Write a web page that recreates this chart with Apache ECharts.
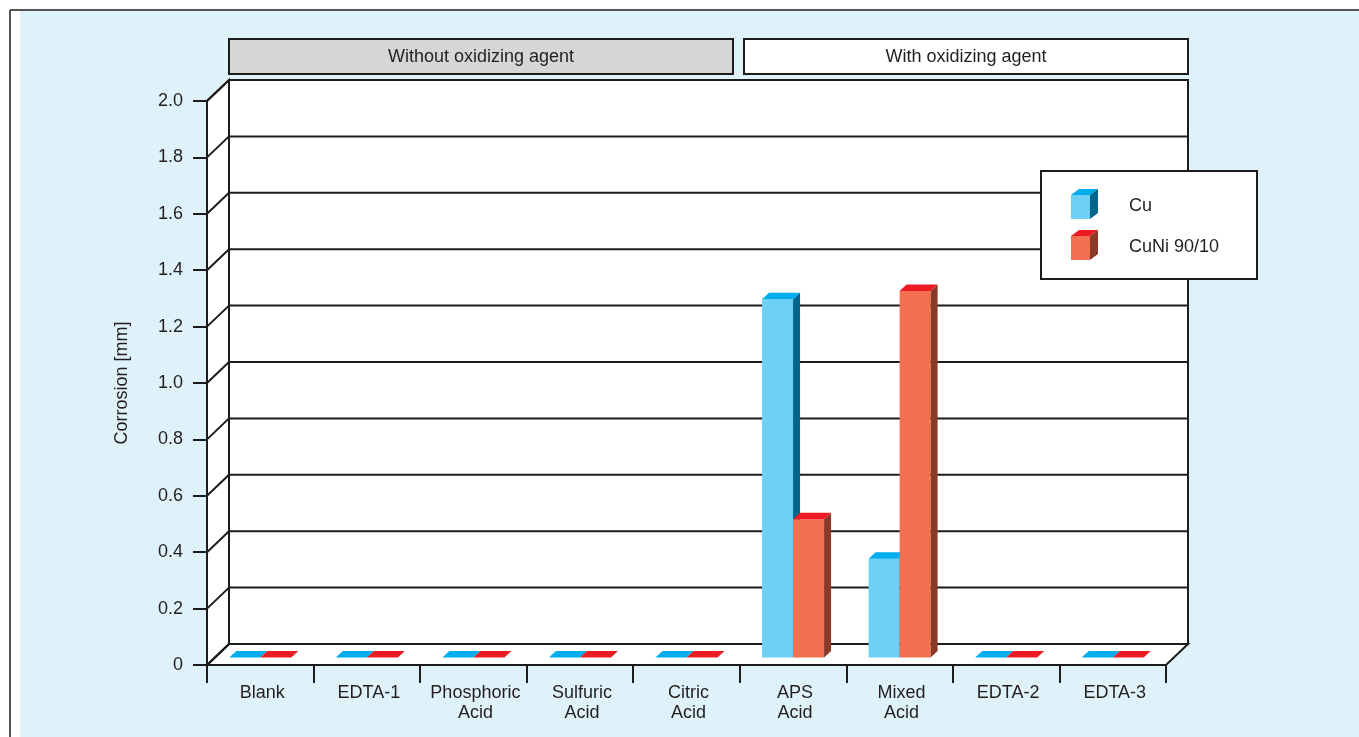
<!DOCTYPE html>
<html>
<head>
<meta charset="utf-8">
<title>Corrosion</title>
<script src="https://cdn.jsdelivr.net/npm/echarts@6/dist/echarts.min.js"></script>
<style>
  html, body { margin: 0; padding: 0; background: #ffffff; }
  #chart { width: 1359px; height: 737px; }
</style>
</head>
<body>
<div id="chart"></div>
<script>
// ---- data ----
const categories = ['Blank', 'EDTA-1', 'Phosphoric\nAcid', 'Sulfuric\nAcid', 'Citric\nAcid',
                    'APS\nAcid', 'Mixed\nAcid', 'EDTA-2', 'EDTA-3'];
const cuValues   = [0, 0, 0, 0, 0, 1.27, 0.35, 0, 0];
const cuNiValues = [0, 0, 0, 0, 0, 0.49, 1.30, 0, 0];
const yTicks = [0, 0.2, 0.4, 0.6, 0.8, 1.0, 1.2, 1.4, 1.6, 1.8, 2.0];
const seriesNames = ['Cu', 'CuNi 90/10'];
const groupLabels = ['Without oxidizing agent', 'With oxidizing agent'];
const yAxisTitle = 'Corrosion [mm]';

// ---- look ----
const FONT = '"Liberation Sans", Arial, Helvetica, sans-serif';
const INK = '#1c1c1c';
const TEXT = '#231f20';
const WALL_DX = 22, WALL_DY = -21;     // depth of the box
const BAR_DX = 7, BAR_DY = -6.5;       // depth of each bar
const BAR_LIFT = 7.5;                  // bars stand a little behind the front edge
const BAR_RATIO = 0.291;               // bar width as share of a category band
const palette = {
  cu:   { front: '#6dcff6', top: '#00aeef', side: '#00668c' },
  cuNi: { front: '#f37053', top: '#ed1c24', side: '#8b3a27' }
};

const chart = echarts.init(document.getElementById('chart'), null, { renderer: 'canvas' });

// back wall, side wall, floor and their grid lines
function renderFrame(params, api) {
  const cs = params.coordSys;
  const L = cs.x, R = cs.x + cs.width, T = cs.y, B = cs.y + cs.height;
  const face = { fill: '#ffffff', stroke: INK, lineWidth: 2 };
  const line = { stroke: INK, lineWidth: 2 };
  const kids = [
    { type: 'polygon', shape: { points: [[L, B], [R, B], [R + WALL_DX, B + WALL_DY], [L + WALL_DX, B + WALL_DY]] }, style: face },
    { type: 'polygon', shape: { points: [[L, B], [L, T], [L + WALL_DX, T + WALL_DY], [L + WALL_DX, B + WALL_DY]] }, style: face },
    { type: 'rect', shape: { x: L + WALL_DX, y: T + WALL_DY, width: cs.width, height: cs.height }, style: face }
  ];
  yTicks.forEach(function (t) {
    const y = api.coord([0, t])[1];
    kids.push({ type: 'line', shape: { x1: L, y1: y, x2: L + WALL_DX, y2: y + WALL_DY }, style: line });
    kids.push({ type: 'line', shape: { x1: L + WALL_DX, y1: y + WALL_DY, x2: R + WALL_DX, y2: y + WALL_DY }, style: line });
  });
  return { type: 'group', children: kids };
}

// a box-shaped bar; side = -1 draws left of the category centre, +1 right of it
function makeBarRenderer(side, col) {
  return function (params, api) {
    const i = api.value(0), v = api.value(1);
    const base = api.coord([i, 0]);
    const topP = api.coord([i, v]);
    const w = api.size([1, 0])[0] * BAR_RATIO;
    const x0 = side < 0 ? base[0] - w : base[0];
    const x1 = x0 + w;
    const yb = base[1] - BAR_LIFT;
    const yt = topP[1] - BAR_LIFT;
    const kids = [];
    if (yb - yt > 0.5) {
      kids.push({ type: 'rect', shape: { x: x0, y: yt, width: w, height: yb - yt }, style: { fill: col.front } });
      kids.push({ type: 'polygon', shape: { points: [[x1, yb], [x1 + BAR_DX, yb + BAR_DY], [x1 + BAR_DX, yt + BAR_DY], [x1, yt]] }, style: { fill: col.side } });
    }
    kids.push({ type: 'polygon', shape: { points: [[x0, yt], [x1, yt], [x1 + BAR_DX, yt + BAR_DY], [x0 + BAR_DX, yt + BAR_DY]] }, style: { fill: col.top } });
    return { type: 'group', children: kids };
  };
}

function cube(x, y, col) {
  return [
    { type: 'rect', shape: { x: x, y: y + 6, width: 19, height: 24 }, style: { fill: col.front } },
    { type: 'polygon', shape: { points: [[x, y + 6], [x + 19, y + 6], [x + 27, y], [x + 8, y]] }, style: { fill: col.top } },
    { type: 'polygon', shape: { points: [[x + 19, y + 6], [x + 27, y], [x + 27, y + 24], [x + 19, y + 30]] }, style: { fill: col.side } }
  ];
}

function label(text, x, y, align) {
  return {
    type: 'text',
    style: { text: text, x: x, y: y, font: '18px ' + FONT, fill: TEXT,
             align: align, verticalAlign: 'middle', textAlign: align, textVerticalAlign: 'middle' }
  };
}

const graphics = [
  // page frame and tinted panel
  { type: 'rect', shape: { x: 20, y: 11, width: 1339, height: 726 }, style: { fill: '#dff1f9' }, z: -10 },
  { type: 'line', shape: { x1: 10, y1: 10, x2: 1359, y2: 10 }, style: { stroke: '#555555', lineWidth: 2 }, z: -9 },
  { type: 'line', shape: { x1: 10, y1: 10, x2: 10, y2: 737 }, style: { stroke: '#555555', lineWidth: 2 }, z: -9 },
  // group headers
  { type: 'rect', shape: { x: 229, y: 39, width: 504, height: 35 }, style: { fill: '#d6d6d6', stroke: INK, lineWidth: 2 } },
  { type: 'rect', shape: { x: 744, y: 39, width: 444, height: 35 }, style: { fill: '#ffffff', stroke: INK, lineWidth: 2 } },
  label(groupLabels[0], 481, 57, 'center'),
  label(groupLabels[1], 966, 57, 'center'),
  // legend
  { type: 'rect', shape: { x: 1041, y: 171, width: 216, height: 108 }, style: { fill: '#ffffff', stroke: INK, lineWidth: 2 }, z: 20 }
].concat(
  cube(1071, 189, palette.cu).map(function (e) { e.z = 21; return e; }),
  cube(1071, 230, palette.cuNi).map(function (e) { e.z = 21; return e; }),
  [Object.assign(label(seriesNames[0], 1129, 206, 'left'), { z: 21 }),
   Object.assign(label(seriesNames[1], 1129, 247, 'left'), { z: 21 })]
);

const option = {
  animation: false,
  backgroundColor: 'transparent',
  textStyle: { fontFamily: FONT },
  grid: { left: 207, top: 101, width: 959, height: 564, containLabel: false },
  xAxis: {
    type: 'category',
    data: categories,
    z: 5,
    axisLine: { show: true, lineStyle: { color: INK, width: 2 } },
    axisTick: { show: true, length: 18, lineStyle: { color: INK, width: 2 } },
    axisLabel: { interval: 0, margin: 18, fontSize: 18, lineHeight: 20, color: TEXT,
                 fontFamily: FONT, padding: [0, 0, 0, 4] },
    splitLine: { show: false }
  },
  yAxis: {
    type: 'value',
    min: 0, max: 2, interval: 0.2,
    z: 5,
    name: yAxisTitle,
    nameLocation: 'middle',
    nameRotate: 90,
    nameGap: 76,
    nameTextStyle: { fontSize: 18, color: TEXT, fontFamily: FONT },
    axisLine: { show: true, lineStyle: { color: INK, width: 2 } },
    axisTick: { show: true, length: 14, lineStyle: { color: INK, width: 2 } },
    axisLabel: {
      margin: 24, fontSize: 18, color: TEXT, fontFamily: FONT,
      formatter: function (v) { return v === 0 ? '0' : v.toFixed(1); }
    },
    splitLine: { show: false }
  },
  series: [
    { type: 'custom', name: 'frame', silent: true, z: 1, renderItem: renderFrame,
      data: [[0, 0]], encode: { x: 0, y: 1 } },
    { type: 'custom', name: seriesNames[0], silent: true, z: 2,
      renderItem: makeBarRenderer(-1, palette.cu),
      data: cuValues.map(function (v, i) { return [i, v]; }), encode: { x: 0, y: 1 } },
    { type: 'custom', name: seriesNames[1], silent: true, z: 3,
      renderItem: makeBarRenderer(1, palette.cuNi),
      data: cuNiValues.map(function (v, i) { return [i, v]; }), encode: { x: 0, y: 1 } }
  ],
  graphic: graphics
};

chart.setOption(option);
</script>
</body>
</html>
